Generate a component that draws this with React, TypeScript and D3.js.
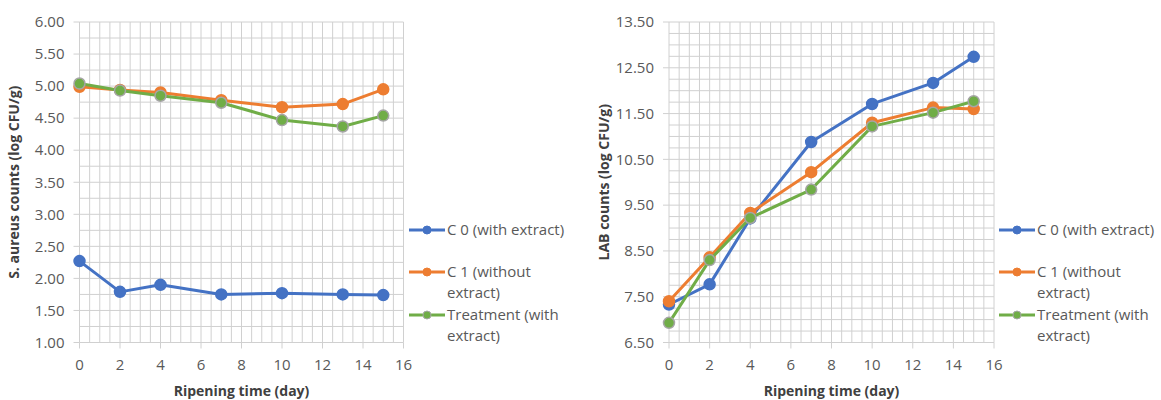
import React from 'react';
import * as d3 from 'd3';

const days = [0, 2, 4, 7, 10, 13, 15];
const seriesNames = ['C 0 (with extract)', 'C 1 (without extract)', 'Treatment (with extract)'];
const legendLines = [['C 0 (with extract)'], ['C 1 (without', 'extract)'], ['Treatment (with', 'extract)']];
const colors = ['#4472C4', '#ED7D31', '#70AD47'];

const aureusC0 = [2.27, 1.79, 1.9, 1.75, 1.77, 1.75, 1.74];
const aureusC1 = [4.99, 4.94, 4.9, 4.78, 4.67, 4.72, 4.95];
const aureusTreat = [5.04, 4.93, 4.85, 4.74, 4.47, 4.37, 4.54];

const labC0 = [7.33, 7.77, 9.21, 10.88, 11.71, 12.17, 12.74];
const labC1 = [7.4, 8.36, 9.33, 10.22, 11.3, 11.63, 11.6];
const labTreat = [6.93, 8.3, 9.22, 9.84, 11.22, 11.52, 11.77];

const xTicks = [0, 2, 4, 6, 8, 10, 12, 14, 16];
const aureusTicks = [1, 1.5, 2, 2.5, 3, 3.5, 4, 4.5, 5, 5.5, 6];
const labTicks = [6.5, 7.5, 8.5, 9.5, 10.5, 11.5, 12.5, 13.5];

const font = "'Open Sans', 'Noto Sans', sans-serif";

type ChartProps = {
  left: number;
  right: number;
  yDomain: [number, number];
  yTicks: number[];
  yMinorStep: number;
  yTitle: string;
  titleX: number;
  series: number[][];
  legendX: number;
};

const Chart: React.FC<ChartProps> = ({ left, right, yDomain, yTicks, yMinorStep, yTitle, titleX, series, legendX }) => {
  const top = 22;
  const bottom = 342.5;
  const x = d3.scaleLinear().domain([0, 16]).range([left, right]);
  const y = d3.scaleLinear().domain(yDomain).range([bottom, top]);

  const xMinor = d3.range(0, 16.001, 0.5);
  const yMinor = d3.range(yDomain[0], yDomain[1] + 0.001, yMinorStep);

  const line = d3.line<number>()
    .x((_, i) => x(days[i]))
    .y((d) => y(d));

  const legendY = [230, 272, 315];

  return (
    <g fontFamily={font}>
      {xMinor.map((v) => (
        <line key={'xv' + v} x1={x(v)} x2={x(v)} y1={top} y2={bottom} stroke="#d0d0d0" strokeWidth={1} />
      ))}
      {yMinor.map((v) => (
        <line key={'yh' + v} x1={left} x2={right} y1={y(v)} y2={y(v)} stroke="#d0d0d0" strokeWidth={1} />
      ))}
      {yTicks.map((v) => (
        <g key={'yt' + v}>
          <line x1={left - 6} x2={left} y1={y(v)} y2={y(v)} stroke="#d0d0d0" />
          <text x={left - 15} y={y(v)} dy="0.35em" textAnchor="end" fontSize={15} fill="#595959">
            {v.toFixed(2)}
          </text>
        </g>
      ))}
      {xTicks.map((v) => (
        <g key={'xt' + v}>
          <line x1={x(v)} x2={x(v)} y1={bottom} y2={bottom + 6} stroke="#d0d0d0" />
          <text x={x(v)} y={365} dy="0.35em" textAnchor="middle" fontSize={15} fill="#595959">
            {v}
          </text>
        </g>
      ))}
      <text x={(left + right) / 2} y={391} dy="0.35em" textAnchor="middle" fontSize={14} fontWeight="bold" fill="#404040">
        Ripening time (day)
      </text>
      <text
        transform={`translate(${titleX}, ${(top + bottom) / 2}) rotate(-90)`}
        dy="0.35em"
        textAnchor="middle"
        fontSize={14}
        fontWeight="bold"
        fill="#404040"
      >
        {yTitle}
      </text>
      {series.map((s, si) => (
        <g key={'s' + si}>
          <path d={line(s)!} fill="none" stroke={colors[si]} strokeWidth={3} strokeLinejoin="round" />
          {s.map((v, i) => (
            <circle
              key={i}
              cx={x(days[i])}
              cy={y(v)}
              r={5.5}
              fill={colors[si]}
              stroke={si === 2 ? '#A5A5A5' : colors[si]}
              strokeWidth={1.5}
            />
          ))}
        </g>
      ))}
      {seriesNames.map((name, si) => (
        <g key={'lg' + si}>
          <line x1={legendX} x2={legendX + 36} y1={legendY[si]} y2={legendY[si]} stroke={colors[si]} strokeWidth={3} />
          <circle cx={legendX + 18} cy={legendY[si]} r={4} fill={colors[si]} stroke={si === 2 ? '#A5A5A5' : colors[si]} />
          {legendLines[si].map((t, li) => (
            <text key={li} x={legendX + 38} y={legendY[si] + li * 21} dy="0.35em" fontSize={15} fill="#595959">
              {t}
            </text>
          ))}
        </g>
      ))}
    </g>
  );
};

const App: React.FC = () => {
  return (
    <div style={{ position: 'absolute', left: 0, top: 0 }}>
      <svg width={1161} height={400} style={{ display: 'block', background: '#fff' }}>
        <Chart
          left={79.5}
          right={403.5}
          yDomain={[1, 6]}
          yTicks={aureusTicks}
          yMinorStep={0.25}
          yTitle="S. aureus counts (log CFU/g)"
          titleX={14}
          series={[aureusC0, aureusC1, aureusTreat]}
          legendX={409}
        />
        <Chart
          left={669}
          right={994}
          yDomain={[6.5, 13.5]}
          yTicks={labTicks}
          yMinorStep={0.25}
          yTitle="LAB counts (log CFU/g)"
          titleX={604}
          series={[labC0, labC1, labTreat]}
          legendX={999}
        />
      </svg>
    </div>
  );
};

export default App;
